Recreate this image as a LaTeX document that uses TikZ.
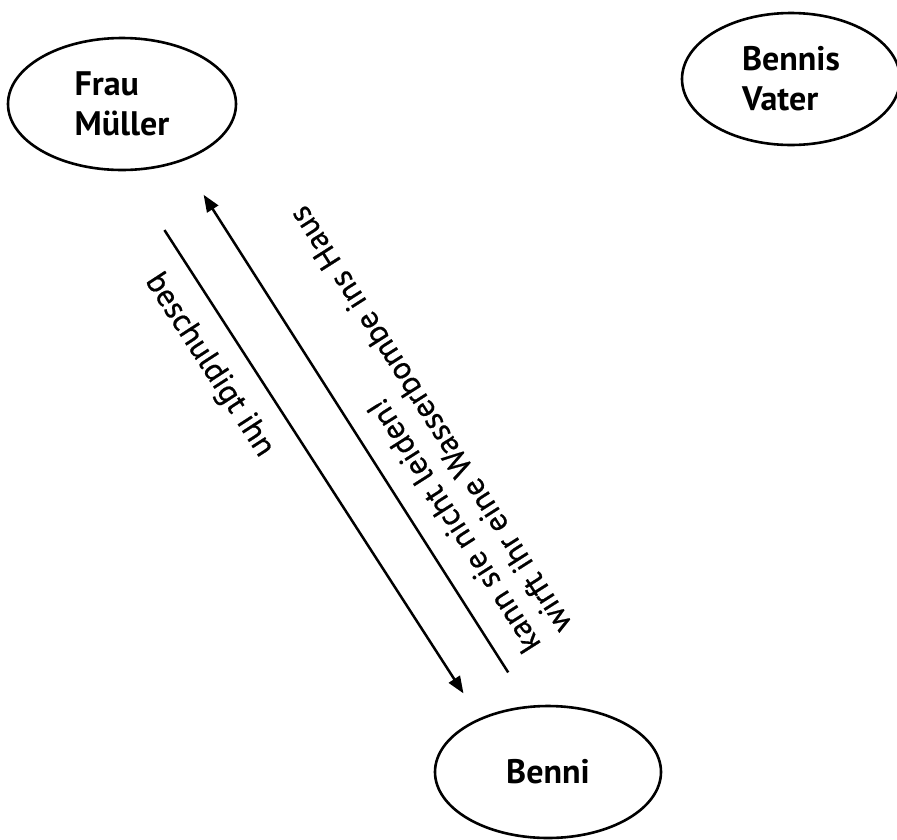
\documentclass[tikz,border=0pt]{standalone}
\usepackage{fontspec}
\setmainfont{PT Sans}
\newfontfamily\labelfont[FakeBold=0.6]{PT Sans}
\usetikzlibrary{shapes.geometric,arrows.meta,calc}

\begin{document}
\begin{tikzpicture}[x=1pt,y=-1pt,
  person/.style={ellipse, draw, line width=2.6pt, font=\fontsize{34}{40}\selectfont\bfseries,
    align=left, inner sep=0pt},
  conn/.style={line width=2.5pt},
  arr/.style={conn, -{Triangle[length=17pt,width=13pt]}},
  lbl/.style={font=\labelfont\fontsize{32}{37}\selectfont, align=left, inner sep=0pt}]
\useasboundingbox (0,0) rectangle (897,839);

% people
\node[person, minimum width=228pt, minimum height=132pt] (fm) at (122,104) {Frau\\Müller};
\node[person, minimum width=218pt, minimum height=132pt] (bv) at (791,79) {Bennis\\Vater};
\node[person, minimum width=226pt, minimum height=132pt] (bn) at (548,772) {Benni};

% Frau Müller -> Benni, drawn beside the centre line
\coordinate (a1) at ($(fm.center)!0.163!(bn.center)!32pt!-90:(bn.center)$);
\coordinate (a2) at ($(fm.center)!0.859!(bn.center)!29pt!-90:(bn.center)$);
\draw[arr] (a1) -- (a2);
\node[lbl, rotate=-57.06] (la) at ($(a1)!0.25!(a2)!36pt!-90:(a2)$) {beschuldigt ihn};

% Benni -> Frau Müller
\coordinate (b1) at ($(fm.center)!0.867!(bn.center)!20pt!90:(bn.center)$);
\coordinate (b2) at ($(fm.center)!0.152!(bn.center)!20pt!90:(bn.center)$);
\draw[arr] (b1) -- (b2);
\node[lbl, rotate=122.46] (lb) at ($(b1)!0.45!(b2)!51pt!-90:(b2)$)
  {kann sie nicht leiden!\\wirft ihr eine Wasserbombe ins Haus};
\end{tikzpicture}
\end{document}
